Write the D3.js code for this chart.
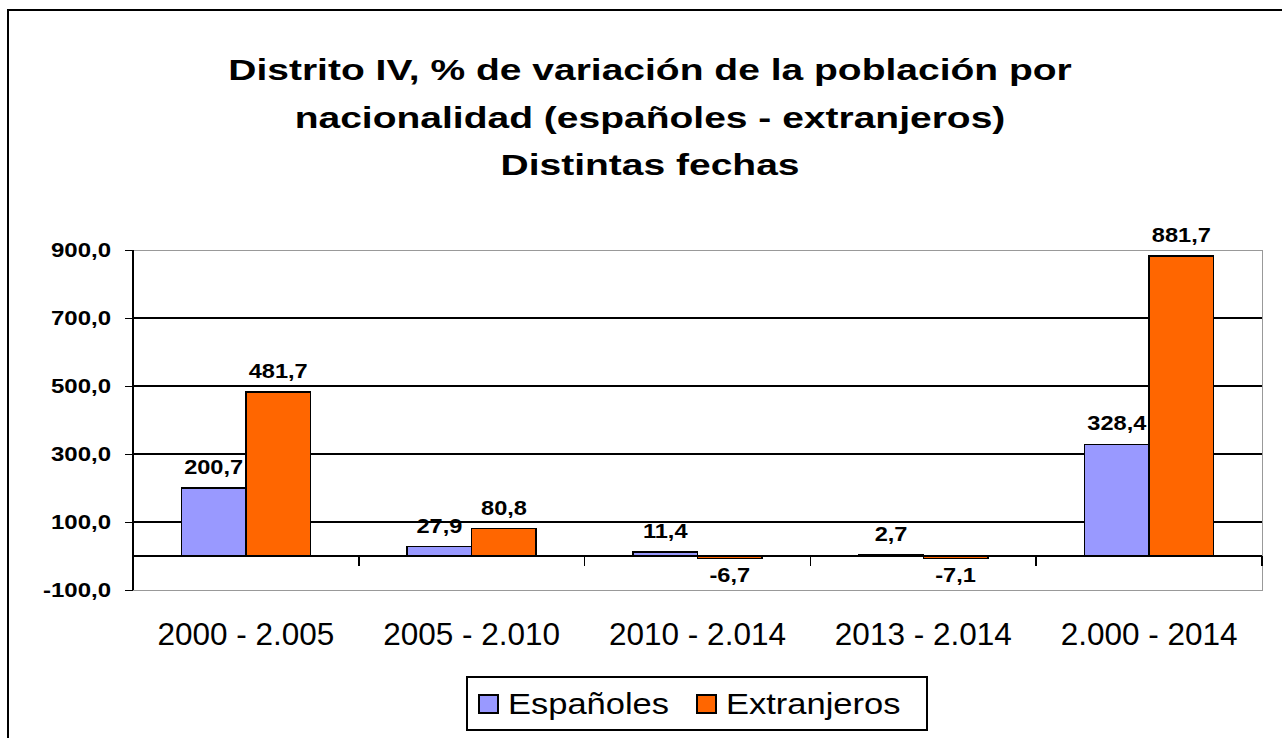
<!DOCTYPE html>
<html>
<head>
<meta charset="utf-8">
<script src="https://cdn.jsdelivr.net/npm/d3@7"></script>
<style>
  html, body { margin: 0; padding: 0; background: #fff; }
  svg { display: block; }
  text { font-family: "Liberation Sans", Arial, sans-serif; fill: #000; }
  line, rect { shape-rendering: crispEdges; }
</style>
</head>
<body>
<svg id="chart" width="1282" height="738"></svg>
<script>
// Periods compared
const categories = ["2000 - 2.005", "2005 - 2.010", "2010 - 2.014", "2013 - 2.014", "2.000 - 2014"];
// % variation by nationality
const series = ["Españoles", "Extranjeros"];
const espanoles = [200.7, 27.9, 11.4, 2.7, 328.4];
const extranjeros = [481.7, 80.8, -6.7, -7.1, 881.7];
const colors = ["#9999FF", "#FF6600"];
const yTicks = [-100, 100, 300, 500, 700, 900];
const titleLines = [
  "Distrito IV, % de variación de la población por",
  "nacionalidad (españoles - extranjeros)",
  "Distintas fechas"
];

const values = [espanoles, extranjeros];
const svg = d3.select("#chart");

// Decimal comma, plain hyphen for negatives
const locale = d3.formatLocale({ decimal: ",", thousands: ".", grouping: [3], currency: ["", "€"], minus: "-" });
const fmt = locale.format(".1f");

// Outer frame
svg.append("rect")
  .attr("x", 8).attr("y", 10).attr("width", 1300).attr("height", 760)
  .attr("fill", "none").attr("stroke", "#000").attr("stroke-width", 2);

// Plot geometry
const plot = { left: 133, right: 1262, top: 250, bottom: 590 };

const y = d3.scaleLinear().domain([-100, 900]).range([plot.bottom, plot.top]);
const x0 = d3.scaleBand().domain(categories).range([plot.left, plot.right]).padding(0);
const x1 = d3.scaleBand().domain(series).range([0, x0.bandwidth()]).paddingInner(0).paddingOuter(0.75);

// Helper: text stretched horizontally
function stretchedText(sel, tx, ty, sx) {
  return sel.attr("transform", `translate(${tx},${ty}) scale(${sx},1)`);
}

// Title
const title = svg.append("g");
titleLines.forEach((t, i) => {
  stretchedText(title.append("text"), 650, 80 + i * 47.5, 1.3)
    .attr("text-anchor", "middle")
    .attr("font-size", 30)
    .attr("font-weight", "bold")
    .text(t);
});

// Gridlines (inner)
svg.append("g")
  .selectAll("line")
  .data(yTicks.filter(v => v > -100 && v < 900))
  .join("line")
  .attr("x1", plot.left).attr("x2", plot.right)
  .attr("y1", d => Math.round(y(d))).attr("y2", d => Math.round(y(d)))
  .attr("stroke", "#000").attr("stroke-width", 1.2);

// Plot area border (gray)
svg.append("rect")
  .attr("x", plot.left).attr("y", plot.top)
  .attr("width", plot.right - plot.left).attr("height", plot.bottom - plot.top)
  .attr("fill", "none").attr("stroke", "#999").attr("stroke-width", 1);

// Bars
const groups = svg.append("g")
  .selectAll("g")
  .data(categories)
  .join("g")
  .attr("transform", d => `translate(${x0(d)},0)`);

groups.selectAll("rect")
  .data((c, i) => series.map((s, k) => ({ s, k, v: values[k][i] })))
  .join("rect")
  .attr("x", d => x1(d.s))
  .attr("width", x1.bandwidth())
  .attr("y", d => y(Math.max(0, d.v)))
  .attr("height", d => Math.abs(y(d.v) - y(0)))
  .attr("fill", d => colors[d.k])
  .attr("stroke", "#000").attr("stroke-width", 1.5);

// Value labels
groups.selectAll("text")
  .data((c, i) => series.map((s, k) => ({ s, k, v: values[k][i] })))
  .join("text")
  .each(function (d) {
    const cx = x1(d.s) + x1.bandwidth() / 2;
    const ty = d.v >= 0 ? y(d.v) - 14 : y(d.v) + 24;
    stretchedText(d3.select(this), cx, ty, 1.18);
  })
  .attr("text-anchor", "middle")
  .attr("font-size", 20)
  .attr("font-weight", "bold")
  .text(d => fmt(d.v));

// Y axis: ticks from d3, labels drawn alongside
const yAxis = svg.append("g")
  .attr("transform", `translate(${plot.left},0)`)
  .call(d3.axisLeft(y).tickValues(yTicks).tickSize(8).tickFormat(""));
yAxis.select(".domain").remove();
yAxis.selectAll(".tick text").remove();
yAxis.selectAll(".tick line").attr("stroke", "#000").attr("stroke-width", 1);
svg.append("line")
  .attr("x1", plot.left).attr("x2", plot.left)
  .attr("y1", plot.top).attr("y2", plot.bottom)
  .attr("stroke", "#000").attr("stroke-width", 1.5);
svg.append("g")
  .selectAll("text")
  .data(yTicks)
  .join("text")
  .each(function (d) {
    stretchedText(d3.select(this), plot.left - 22, y(d) + 7, 1.2);
  })
  .attr("text-anchor", "end")
  .attr("font-size", 20)
  .attr("font-weight", "bold")
  .text(d => fmt(d));

// Category axis at zero
const xAxis = svg.append("g")
  .attr("transform", `translate(0,${Math.round(y(0))})`);
xAxis.append("line")
  .attr("x1", plot.left).attr("x2", plot.right)
  .attr("stroke", "#000").attr("stroke-width", 1.5);
xAxis.selectAll("line.tk")
  .data(categories.slice(1).map(c => x0(c)).concat([plot.right]))
  .join("line")
  .attr("class", "tk")
  .attr("x1", d => d).attr("x2", d => d)
  .attr("y1", 0).attr("y2", 10)
  .attr("stroke", "#000").attr("stroke-width", 1.5);

// Category labels
svg.append("g")
  .selectAll("text")
  .data(categories)
  .join("text")
  .attr("x", d => x0(d) + x0.bandwidth() / 2)
  .attr("y", 645)
  .attr("text-anchor", "middle")
  .attr("font-size", 31.5)
  .text(d => d);

// Legend
const legend = svg.append("g").attr("transform", "translate(467,677)");
legend.append("rect")
  .attr("width", 460).attr("height", 53)
  .attr("fill", "#fff").attr("stroke", "#000").attr("stroke-width", 2);
const itemOffsets = [12, 230];
series.forEach((s, k) => {
  const g = legend.append("g").attr("transform", `translate(${itemOffsets[k]},0)`);
  g.append("rect")
    .attr("x", 0).attr("y", 18).attr("width", 19).attr("height", 18)
    .attr("fill", colors[k]).attr("stroke", "#000").attr("stroke-width", 1.5);
  stretchedText(g.append("text"), 29, 36.5, 1.15)
    .attr("font-size", 30)
    .text(s);
});
</script>
</body>
</html>
